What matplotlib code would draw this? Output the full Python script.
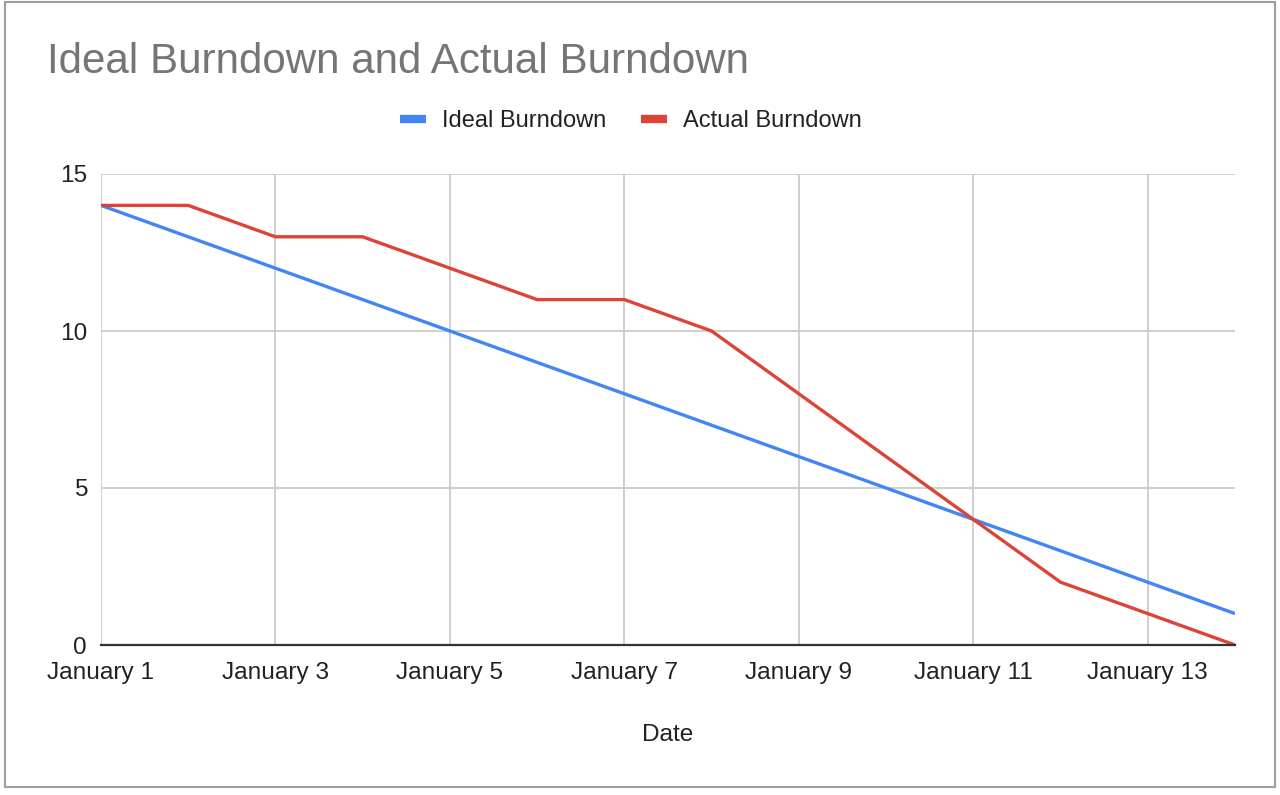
import matplotlib
matplotlib.use("Agg")
import matplotlib.pyplot as plt
from matplotlib.patches import Rectangle

plt.rcParams['font.family'] = ['Liberation Sans', 'DejaVu Sans']

dates = ["January %d" % d for d in range(1, 15)]
ideal = [14, 13, 12, 11, 10, 9, 8, 7, 6, 5, 4, 3, 2, 1]
actual = [14, 14, 13, 13, 12, 11, 11, 10, 8, 6, 4, 2, 1, 0]
y_ticks = [0, 5, 10, 15]

W, H = 1280, 795
fig = plt.figure(figsize=(W / 100, H / 100), dpi=100)
fig.patch.set_facecolor("white")

# outer chart border
fig.patches.append(Rectangle((5 / W, 1 - 787 / H), (1275 - 5) / W, (787 - 2) / H,
                             transform=fig.transFigure, fill=False,
                             edgecolor="#9e9e9e", linewidth=1.5, zorder=0))

ax = fig.add_axes([101 / W, 1 - 645 / H, (1235 - 101) / W, (645 - 174) / H])
x = list(range(len(dates)))

ax.plot(x, ideal, color="#4285F4", linewidth=2.4, label="Ideal Burndown",
        solid_capstyle="butt", zorder=3)
ax.plot(x, actual, color="#DB4437", linewidth=2.4, label="Actual Burndown",
        solid_capstyle="butt", solid_joinstyle="miter", zorder=4)

ax.set_xlim(0, len(dates) - 1)
ax.set_ylim(0, 15)
ax.set_yticks(y_ticks)
ax.set_yticklabels([str(v) for v in y_ticks])
xt = x[::2]
ax.set_xticks(xt)
ax.set_xticklabels([dates[i] for i in xt])

for s in ["top", "right", "left"]:
    ax.spines[s].set_visible(False)
ax.spines["bottom"].set_color("#333333")
ax.spines["bottom"].set_linewidth(1.6)
ax.spines["bottom"].set_zorder(5)

ax.grid(True, color="#cccccc", linewidth=1.3)
ax.set_axisbelow(True)
ax.tick_params(axis="both", length=0, labelsize=17.6, colors="#222222")
ax.tick_params(axis="x", pad=12)
ax.tick_params(axis="y", pad=10)

ax.set_xlabel("Date", fontsize=17.6, color="#222222", labelpad=29)

fig.text(47 / W, 1 - 62 / H, "Ideal Burndown and Actual Burndown",
         fontsize=30.3, color="#757575", ha="left", va="center")

leg = fig.legend(loc="center", bbox_to_anchor=(631 / W, 1 - 121 / H), ncol=2,
                 frameon=False, fontsize=17, handlelength=1.1, handletextpad=0.65,
                 columnspacing=1.5)
for line in leg.get_lines():
    line.set_linewidth(6)
for t in leg.get_texts():
    t.set_color("#222222")

fig.savefig("out.png", dpi=100, facecolor="white")
